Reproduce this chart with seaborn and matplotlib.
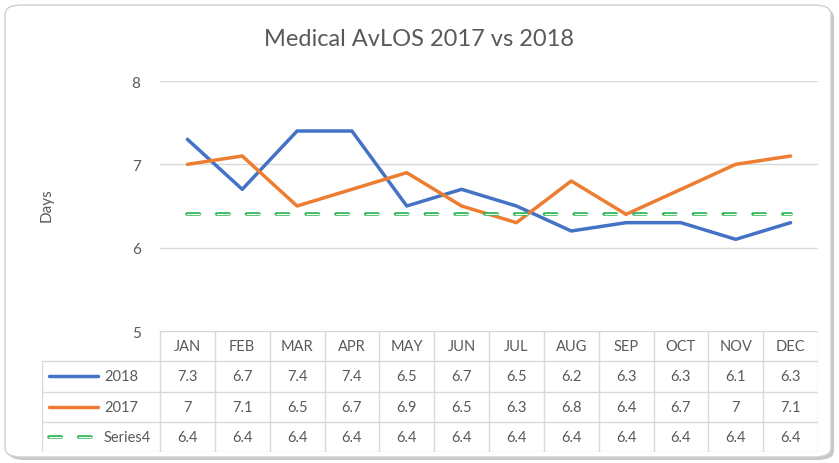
import pandas as pd
import matplotlib.pyplot as plt
import seaborn as sns
from matplotlib.patches import FancyBboxPatch

# data
months = ["JAN", "FEB", "MAR", "APR", "MAY", "JUN", "JUL", "AUG", "SEP", "OCT", "NOV", "DEC"]
avlos_2018 = [7.3, 6.7, 7.4, 7.4, 6.5, 6.7, 6.5, 6.2, 6.3, 6.3, 6.1, 6.3]
avlos_2017 = [7, 7.1, 6.5, 6.7, 6.9, 6.5, 6.3, 6.8, 6.4, 6.7, 7, 7.1]
series4 = [6.4, 6.4, 6.4, 6.4, 6.4, 6.4, 6.4, 6.4, 6.4, 6.4, 6.4, 6.4]
series_names = ["2018", "2017", "Series4"]

sns.set_theme(style="white")
plt.rcParams['font.family'] = ['Lato', 'DejaVu Sans']

blue = "#4472C4"
orange = "#ED7D31"
green = "#2DB657"
grey_txt = "#595959"
grid_c = "#D9D9D9"
LW = 2.5

W, H = 839, 464
fig = plt.figure(figsize=(W / 100, H / 100), dpi=100)

# rounded chart border with a soft shadow
shadow = FancyBboxPatch((8 / W, 3 / H), 826 / W, 452 / H, boxstyle="round,pad=0,rounding_size=0.02",
                        transform=fig.transFigure, facecolor="#C8C8C8", edgecolor="none", zorder=-2)
border = FancyBboxPatch((5 / W, 6 / H), 826 / W, 452 / H, boxstyle="round,pad=0,rounding_size=0.02",
                        transform=fig.transFigure, facecolor="white", edgecolor="#D0D0D0", lw=1, zorder=-1)
fig.patches.extend([shadow, border])


def dashed_green(axis, x, y):
    # hollow-looking green dash: thick green dash with a thin white core
    axis.plot(x, y, color=green, lw=2.6, dashes=(3.4, 4.85), dash_capstyle="round")
    axis.plot(x, y, color="white", lw=0.8, dashes=(11.1, 15.75), dash_capstyle="round")


left, right = 160, 818
top, bottom = 82, 332
ax = fig.add_axes([left / W, 1 - bottom / H, (right - left) / W, (bottom - top) / H])
ax.patch.set_alpha(0)

df = pd.DataFrame({"month": months * 3,
                   "value": avlos_2018 + avlos_2017 + series4,
                   "series": [series_names[0]] * 12 + [series_names[1]] * 12 + [series_names[2]] * 12})

sns.lineplot(data=df[df.series == "2018"], x="month", y="value", color=blue, lw=LW, ax=ax, sort=False)
sns.lineplot(data=df[df.series == "2017"], x="month", y="value", color=orange, lw=LW, ax=ax, sort=False)
dashed_green(ax, months, series4)

ax.set_ylim(5, 8)
ax.set_xlim(-0.5, 11.5)
ax.set_yticks([5, 6, 7, 8])
for v in [6, 7, 8]:
    ax.axhline(v, color=grid_c, lw=1, zorder=0)
ax.set_xticks([])
ax.set_xlabel("")
ax.set_ylabel("")
ax.tick_params(axis="y", length=0, pad=14, labelsize=11, labelcolor=grey_txt)
for s in ax.spines.values():
    s.set_visible(False)

fig.text(47 / W, 1 - 205 / H, "Days", rotation=90, ha="center", va="center", fontsize=11, color=grey_txt)
fig.text(0.5, 1 - 40 / H, "Medical AvLOS 2017 vs 2018", ha="center", va="center", fontsize=17, color=grey_txt)

# data table
tleft, tbottom = 42, 453
col_w = (right - left) / 12
x0 = -0.5 - (left - tleft) / col_w
tax = fig.add_axes([tleft / W, 1 - tbottom / H, (right - tleft) / W, (tbottom - bottom) / H])
tax.set_xlim(x0, 11.5)
tax.set_ylim(4, 0)
tax.axis("off")

tax.plot([-0.5, 11.5], [0, 0], color=grid_c, lw=1)
for r in [1, 2, 3, 4]:
    tax.plot([x0, 11.5], [r, r], color=grid_c, lw=1)
for c in range(13):
    tax.plot([c - 0.5, c - 0.5], [0, 4], color=grid_c, lw=1)
tax.plot([x0, x0], [1, 4], color=grid_c, lw=1)

for i, m in enumerate(months):
    tax.text(i, 0.5, m, ha="center", va="center", fontsize=10.5, color=grey_txt)

rows = [avlos_2018, avlos_2017, series4]
for r, vals in enumerate(rows):
    for i, v in enumerate(vals):
        tax.text(i, r + 1.5, f"{v:g}", ha="center", va="center", fontsize=10.5, color=grey_txt)

key_x = [x0 + 7 / col_w, x0 + 56 / col_w]
tax.plot(key_x, [1.5, 1.5], color=blue, lw=LW, solid_capstyle="round")
tax.plot(key_x, [2.5, 2.5], color=orange, lw=LW, solid_capstyle="round")
dashed_green(tax, key_x, [3.5, 3.5])
for r, name in enumerate(series_names):
    tax.text(x0 + 62 / col_w, r + 1.5, name, ha="left", va="center", fontsize=10.5, color=grey_txt)

plt.savefig("out.png", dpi=100)
